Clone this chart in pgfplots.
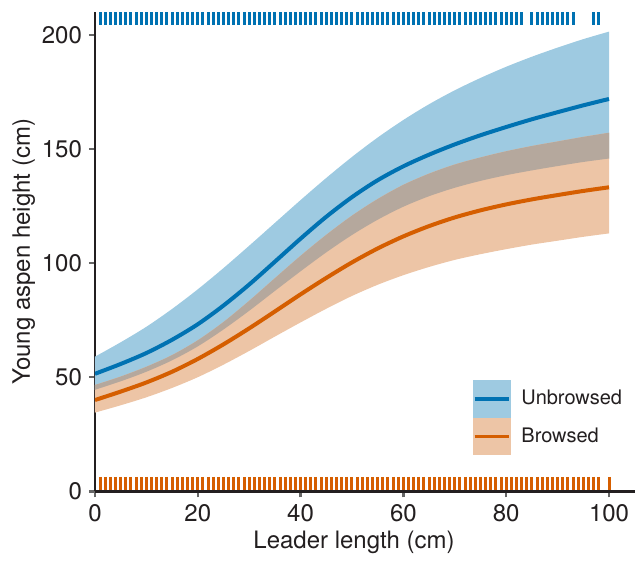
\documentclass[border=0pt]{standalone}
\usepackage{pgfplots}
\pgfplotsset{compat=1.18}
\usepackage{pgfplotstable}
\usepgfplotslibrary{fillbetween}
\usepackage{fontspec}
\setmainfont{TeX Gyre Heros}

\definecolor{ublue}{RGB}{0,114,178}
\definecolor{bor}{RGB}{213,94,0}
\definecolor{ubfill}{RGB}{158,202,225}
\definecolor{brfill}{RGB}{237,197,166}
\definecolor{ovfill}{RGB}{181,168,157}
\definecolor{ink}{RGB}{35,31,32}

% fitted means and bands: unbrowsed (b*) and browsed (o*)
\pgfplotstableread{
x   bm    bl    bu    om    ol    ou
0   51.5  44.5  59.0  40.0  34.5  46.6
5   55.8  48.2  65.3  43.7  37.7  50.3
10  60.6  52.4  72.1  47.7  41.2  54.6
15  66.4  57.4  79.9  52.4  45.3  59.7
20  73.2  63.5  88.5  58.0  50.0  66.2
25  81.4  70.9  97.8  64.4  55.5  74.2
30  90.6  79.1  107.6 71.4  61.5  83.5
35  100.6 87.8  117.6 78.8  67.8  93.4
40  110.7 96.4  127.6 86.3  74.0  103.2
45  120.3 104.7 137.3 93.5  80.0  112.4
50  128.9 112.3 146.5 100.3 85.6  120.8
55  136.3 119.0 155.0 106.4 90.5  128.1
60  142.4 124.7 162.7 111.7 94.7  134.3
65  147.5 129.3 169.6 116.2 98.3  139.2
70  152.0 133.0 175.7 120.0 101.4 143.2
75  156.0 136.0 181.1 123.1 103.9 146.3
80  159.6 138.5 186.0 125.7 106.1 149.0
85  163.0 140.6 190.4 127.9 108.1 151.3
90  166.1 142.5 194.4 129.8 109.8 153.3
95  169.1 144.3 198.1 131.6 111.5 155.3
100 171.9 145.8 201.4 133.2 113.0 157.1
}\bands

\begin{document}
\begin{tikzpicture}
\begin{axis}[
    scale only axis,
    width=270pt, height=239.8pt,
    xmin=0, xmax=105, ymin=0, ymax=210,
    axis x line=bottom, axis y line=left,
    axis line style={-, line width=1.3pt, ink},
    xtick={0,20,...,100}, ytick={0,50,...,200},
    xtick pos=bottom, ytick pos=left,
    tick align=outside, major tick length=3pt,
    major tick style={line width=1.2pt, black!60},
    tick label style={font=\fontsize{12}{14}\selectfont, text=ink},
    /pgf/number format/assume math mode=true,
    xlabel={Leader length (cm)},
    ylabel={Young aspen height (cm)},
    label style={font=\fontsize{12}{14}\selectfont, text=ink},
    xlabel style={at={(axis description cs:0.48,-0.106)}, anchor=center},
    ylabel style={at={(axis description cs:-0.132,0.5)}, anchor=center},
    legend style={at={(axis description cs:0.699,0.233)}, anchor=north west,
        draw=none, fill=none, inner sep=0pt, row sep=0pt,
        font=\fontsize{10}{12}\selectfont, text=ink,
        /tikz/every odd column/.append style={column sep=3.2pt}},
    legend cell align=left,
]
\addplot[name path=bu, draw=none, smooth, forget plot] table[x=x, y=bu]{\bands};
\addplot[name path=bl, draw=none, smooth, forget plot] table[x=x, y=bl]{\bands};
\addplot[name path=ou, draw=none, smooth, forget plot] table[x=x, y=ou]{\bands};
\addplot[name path=ol, draw=none, smooth, forget plot] table[x=x, y=ol]{\bands};
\addplot[ubfill, forget plot] fill between[of=bu and bl];
\addplot[brfill, forget plot] fill between[of=ou and ol];
\addplot[ovfill, forget plot] fill between[of=ou and bl];

\addplot[ublue, line width=2pt, smooth,
    legend image code/.code={
        \fill[ubfill] (0pt,-8.4pt) rectangle (17.2pt,8.4pt);
        \draw[ublue, line width=1.8pt] (0pt,0pt) -- (17.2pt,0pt);}]
    table[x=x, y=bm]{\bands};
\addlegendentry{Unbrowsed}
\addplot[bor, line width=2pt, smooth,
    legend image code/.code={
        \fill[brfill] (0pt,-8.4pt) rectangle (17.2pt,8.4pt);
        \draw[bor, line width=1.8pt] (0pt,0pt) -- (17.2pt,0pt);}]
    table[x=x, y=om]{\bands};
\addlegendentry{Browsed}

% rug marks
\addplot[only marks, mark=|, mark size=3.25pt, ublue,
    mark options={line width=1.5pt}, forget plot] coordinates {
(1,207)(2,207)(3,207)(4,207)(5,207)(6,207)(7,207)(8,207)(9,207)(10,207)
(11,207)(12,207)(13,207)(14,207)(15,207)(16,207)(17,207)(18,207)(19,207)(20,207)
(21,207)(22,207)(23,207)(24,207)(25,207)(26,207)(27,207)(28,207)(29,207)(30,207)
(31,207)(32,207)(33,207)(34,207)(35,207)(36,207)(37,207)(38,207)(39,207)(40,207)
(41,207)(42,207)(43,207)(44,207)(45,207)(46,207)(47,207)(48,207)(49,207)(50,207)
(51,207)(52,207)(53,207)(54,207)(55,207)(56,207)(57,207)(58,207)(59,207)(60,207)
(61,207)(62,207)(63,207)(64,207)(65,207)(66,207)(67,207)(68,207)(69,207)(70,207)
(71,207)(72,207)(73,207)(74,207)(75,207)(76,207)(77,207)(78,207)(79,207)(80,207)
(81,207)(82,207)(83,207)(85,207)(86,207)(87,207)(88,207)(89,207)(90,207)
(91,207)(92,207)(93,207)(97,207)(98,207)
};
\addplot[only marks, mark=|, mark size=3.25pt, bor,
    mark options={line width=1.5pt}, forget plot] coordinates {
(1,3.5)(2,3.5)(3,3.5)(4,3.5)(5,3.5)(6,3.5)(7,3.5)(8,3.5)(9,3.5)(10,3.5)
(11,3.5)(12,3.5)(13,3.5)(14,3.5)(15,3.5)(16,3.5)(17,3.5)(18,3.5)(19,3.5)(20,3.5)
(21,3.5)(22,3.5)(23,3.5)(24,3.5)(25,3.5)(26,3.5)(27,3.5)(28,3.5)(29,3.5)(30,3.5)
(31,3.5)(32,3.5)(33,3.5)(34,3.5)(35,3.5)(36,3.5)(37,3.5)(38,3.5)(39,3.5)(40,3.5)
(41,3.5)(42,3.5)(43,3.5)(44,3.5)(45,3.5)(46,3.5)(47,3.5)(48,3.5)(49,3.5)(50,3.5)
(51,3.5)(52,3.5)(53,3.5)(54,3.5)(55,3.5)(56,3.5)(57,3.5)(58,3.5)(59,3.5)(60,3.5)
(61,3.5)(62,3.5)(63,3.5)(64,3.5)(65,3.5)(66,3.5)(67,3.5)(68,3.5)(69,3.5)(70,3.5)
(71,3.5)(72,3.5)(73,3.5)(74,3.5)(75,3.5)(76,3.5)(77,3.5)(78,3.5)(79,3.5)(80,3.5)
(81,3.5)(82,3.5)(83,3.5)(84,3.5)(85,3.5)(86,3.5)(87,3.5)(88,3.5)(89,3.5)(90,3.5)
(91,3.5)(92,3.5)(93,3.5)(94,3.5)(95,3.5)(96,3.5)(97,3.5)(98,3.5)(100,3.5)
};
\end{axis}
\path (current axis.north west) ++(-47.5pt,6pt);
\end{tikzpicture}
\end{document}
